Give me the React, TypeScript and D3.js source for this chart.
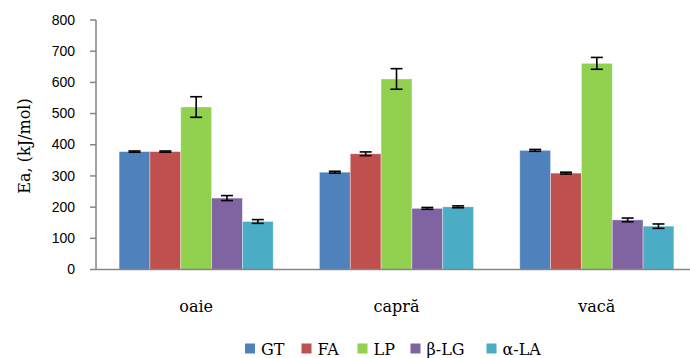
import React from "react";
import * as d3 from "d3";

const categories = ["oaie", "capră", "vacă"];
const seriesNames = ["GT", "FA", "LP", "β-LG", "α-LA"];
const seriesColors = ["#4F81BD", "#C0504D", "#92D050", "#8064A2", "#4BACC6"];
// values per series, in category order
const gtValues = [378, 312, 382];
const faValues = [378, 371, 309];
const lpValues = [521, 611, 661];
const blgValues = [229, 196, 159];
const alaValues = [154, 201, 139];
// standard deviations per series
const gtErr = [2, 3, 3];
const faErr = [2, 6, 3];
const lpErr = [33, 33, 19];
const blgErr = [8, 3, 6];
const alaErr = [6, 3, 7];
const yTicks = [0, 100, 200, 300, 400, 500, 600, 700, 800];

const values = [gtValues, faValues, lpValues, blgValues, alaValues];
const errors = [gtErr, faErr, lpErr, blgErr, alaErr];

const W = 690;
const H = 358;
const left = 96;
const right = 697;
const top = 20;
const bottom = 269.5;

export default function App() {
  const y = d3.scaleLinear().domain([0, 800]).range([bottom, top]);
  const x0 = d3.scaleBand().domain(categories).range([left, right]).paddingInner(0).paddingOuter(0);
  const cw = x0.bandwidth();
  const barW = cw / 6.5;
  const x1 = d3
    .scaleBand()
    .domain(seriesNames)
    .range([cw * 0.75 / 6.5, cw * 0.75 / 6.5 + barW * 5]);

  const serif = "'DejaVu Serif', 'Liberation Serif', serif";
  const sans = "'Liberation Sans', Arial, sans-serif";
  const axisColor = "#868686";

  const legendX = [245, 301.5, 357.5, 410.5, 486.5];

  return (
    <svg width={W} height={H} style={{ position: "absolute", left: 0, top: 0, background: "#fff" }}>
      {/* bars */}
      {categories.map((c, ci) => (
        <g key={c} transform={`translate(${x0(c)},0)`}>
          {seriesNames.map((s, si) => {
            const v = values[si][ci];
            const bx = x1(s)!;
            return (
              <rect
                key={s}
                x={bx}
                y={y(v)}
                width={x1.bandwidth()}
                height={bottom - y(v)}
                fill={seriesColors[si]}
                stroke="rgba(255,255,255,0.45)"
                strokeWidth={0.8}
              />
            );
          })}
          {seriesNames.map((s, si) => {
            const v = values[si][ci];
            const e = errors[si][ci];
            const cx = x1(s)! + x1.bandwidth() / 2;
            const yHi = y(v + e);
            const yLo = y(v - e);
            return (
              <g key={s} stroke="#000" strokeWidth={1.6}>
                <line x1={cx} x2={cx} y1={yHi} y2={yLo} />
                <line x1={cx - 6} x2={cx + 6} y1={yHi} y2={yHi} />
                <line x1={cx - 6} x2={cx + 6} y1={yLo} y2={yLo} />
              </g>
            );
          })}
        </g>
      ))}

      {/* y axis */}
      <line x1={left} x2={left} y1={top} y2={bottom} stroke={axisColor} strokeWidth={1.5} />
      {yTicks.map((t) => (
        <g key={t}>
          <line x1={left - 6} x2={left} y1={y(t)} y2={y(t)} stroke={axisColor} strokeWidth={1.5} />
          <text
            x={75}
            y={y(t) + 1}
            textAnchor="end"
            dominantBaseline="middle"
            fontFamily={sans}
            fontSize={14}
            fill="#000"
          >
            {t}
          </text>
        </g>
      ))}
      {/* x axis */}
      <line x1={left} x2={right} y1={bottom} y2={bottom} stroke={axisColor} strokeWidth={1.5} />

      {/* category labels */}
      {categories.map((c) => (
        <text
          key={c}
          x={x0(c)! + cw / 2}
          y={312}
          textAnchor="middle"
          fontFamily={serif}
          fontSize={16}
          fill="#000"
        >
          {c}
        </text>
      ))}

      {/* y title */}
      <text
        transform={`translate(30,146) rotate(-90)`}
        textAnchor="middle"
        fontFamily={serif}
        fontSize={16}
        fill="#000"
      >
        Ea, (kJ/mol)
      </text>

      {/* legend */}
      {seriesNames.map((s, i) => (
        <g key={s}>
          <rect x={legendX[i]} y={343.5} width={10} height={10} fill={seriesColors[i]} />
          <text x={legendX[i] + 16} y={355} fontFamily={serif} fontSize={16} fill="#000">
            {s}
          </text>
        </g>
      ))}
    </svg>
  );
}
